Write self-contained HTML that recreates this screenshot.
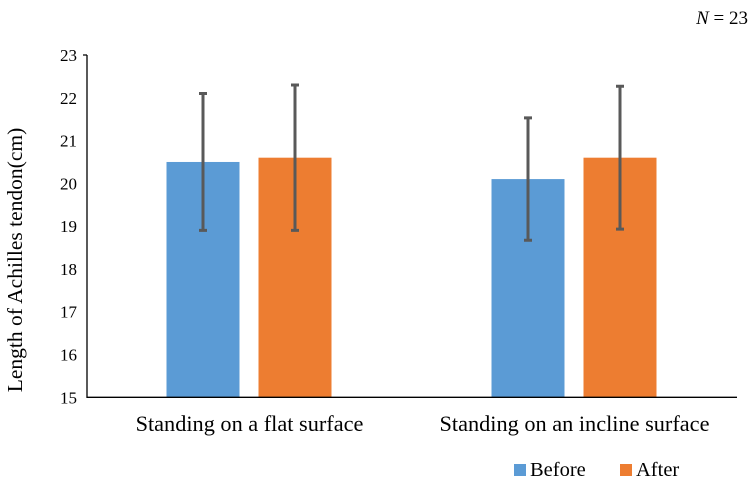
<!DOCTYPE html>
<html><head><meta charset="utf-8"><style>
body{margin:0;background:#fff;}
svg{display:block;font-family:"Liberation Serif",serif;}
</style></head><body>
<svg id="chart" width="755" height="481">
<text x="748" y="24" font-size="19" text-anchor="end"><tspan font-style="italic">N</tspan> = 23</text>
<text transform="translate(22,260) rotate(-90)" font-size="21.5" text-anchor="middle">Length of Achilles tendon(cm)</text>
<g id="plot"></g>
</svg>
<script>
const categories=["Standing on a flat surface","Standing on an incline surface"];
const seriesNames=["Before","After"];
const beforeVals=[20.5,20.1];
const afterVals=[20.6,20.6];
const beforeErrTop=[22.1,21.53];
const beforeErrBot=[18.9,18.67];
const afterErrTop=[22.3,22.27];
const afterErrBot=[18.9,18.93];
const yTicks=[15,16,17,18,19,20,21,22,23];
const colors=["#5b9bd5","#ed7d31"];
const NS="http://www.w3.org/2000/svg";
const g=document.getElementById('plot');
const x0=87,x1=737,yTop=55,yBot=397.3,yMin=15,yMax=23;
const y=v=>yBot-(v-yMin)/(yMax-yMin)*(yBot-yTop);
const catW=(x1-x0)/categories.length;
const xc=i=>x0+catW*(i+0.5);
function el(t,a){const e=document.createElementNS(NS,t);for(const k in a)e.setAttribute(k,a[k]);g.appendChild(e);return e;}
yTicks.forEach(t=>{const e=el('text',{x:x0-10,y:y(t)+6,'font-size':17,'text-anchor':'end'});e.textContent=t;

});
const bw=73;
const vals=[beforeVals,afterVals],tops=[beforeErrTop,afterErrTop],bots=[beforeErrBot,afterErrBot];
categories.forEach((c,i)=>{
 const cx=xc(i);
 [0,1].forEach(s=>{
  const bx=s===0?cx-bw-10:cx+9;
  const r=el('rect',{x:bx,y:y(vals[s][i]),width:bw,height:yBot-y(vals[s][i]),fill:colors[s]});
  
  
  const ex=bx+bw/2;
  const l=el('path',{d:`M${ex},${y(tops[s][i])}V${y(bots[s][i])}M${ex-4},${y(tops[s][i])}H${ex+4}M${ex-4},${y(bots[s][i])}H${ex+4}`,stroke:'#595959','stroke-width':3,fill:'none'});
  
  
 });
 const t=el('text',{x:cx,y:431,'font-size':22.3,'text-anchor':'middle'});t.textContent=c;
 
 
});
const ax=el('path',{d:`M${x0},${yTop}V${yBot}H${x1}M${x0-4},${yTop}H${x0}`,stroke:'#000','stroke-width':1.3,fill:'none'});


const lx=[514,620];
seriesNames.forEach((n,s)=>{
 const r=el('rect',{x:lx[s],y:464,width:12,height:12,fill:colors[s]});
 
 
 const t=el('text',{x:lx[s]+16,y:476,'font-size':20.5});t.textContent=n;
 
 
});
</script>
</body></html>
